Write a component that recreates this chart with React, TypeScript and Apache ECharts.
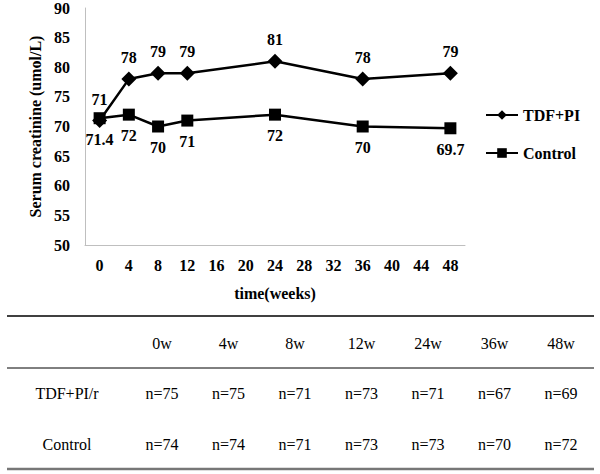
import React, { useEffect, useRef } from "react";
import * as echarts from "echarts";

const weeks = ["0", "4", "8", "12", "16", "20", "24", "28", "32", "36", "40", "44", "48"];
const tdfValues = [71, 78, 79, 79, null, null, 81, null, null, 78, null, null, 79];
const controlValues = [71.4, 72, 70, 71, null, null, 72, null, null, 70, null, null, 69.7];
const yTicks = { min: 50, max: 90, interval: 5 };

const tableHeaders = ["0w", "4w", "8w", "12w", "24w", "36w", "48w"];
const tableRowNames = ["TDF+PI/r", "Control"];
const tdfCounts = ["n=75", "n=75", "n=71", "n=73", "n=71", "n=67", "n=69"];
const controlCounts = ["n=74", "n=74", "n=71", "n=73", "n=73", "n=70", "n=72"];

const SERIF = "'Liberation Serif', 'Times New Roman', serif";

export default function App() {
  const ref = useRef<HTMLDivElement>(null);
  useEffect(() => {
    if (!ref.current) return;
    const chart = echarts.init(ref.current, undefined, { renderer: "svg" });

    const colX0 = 162;
    const colStep = 66.5;
    const tableTexts: any[] = [];
    const txt = (text: string, x: number, y: number) => ({
      type: "text",
      x,
      y,
      style: {
        text,
        font: `16px ${SERIF}`,
        fill: "#000",
        align: "center",
        verticalAlign: "middle",
      },
    });
    tableHeaders.forEach((h, i) => tableTexts.push(txt(h, colX0 + i * colStep, 343)));
    tableTexts.push(txt(tableRowNames[0], 67, 393));
    tableTexts.push(txt(tableRowNames[1], 67, 444));
    tdfCounts.forEach((c, i) => tableTexts.push(txt(c, colX0 + i * colStep, 393)));
    controlCounts.forEach((c, i) => tableTexts.push(txt(c, colX0 + i * colStep, 444)));

    const labelFont = { fontFamily: SERIF, fontWeight: "bold" as const, fontSize: 16, color: "#000" };

    chart.setOption({
      animation: false,
      backgroundColor: "#fff",
      grid: { left: 85, right: 135, top: 8, bottom: 229 },
      legend: {
        orient: "vertical",
        left: 480,
        top: 102,
        itemWidth: 32,
        itemHeight: 12,
        itemGap: 22,
        textStyle: { ...labelFont },
        data: ["TDF+PI", "Control"],
      },
      xAxis: {
        type: "category",
        data: weeks,
        boundaryGap: true,
        axisTick: { show: false },
        axisLine: { lineStyle: { color: "#bfbfbf", width: 1 } },
        axisLabel: { ...labelFont, margin: 12, interval: 0 },
        name: "time(weeks)",
        nameLocation: "middle",
        nameGap: 40,
        nameTextStyle: { ...labelFont },
      },
      yAxis: {
        type: "value",
        min: yTicks.min,
        max: yTicks.max,
        interval: yTicks.interval,
        splitLine: { show: false },
        axisTick: { show: false },
        axisLine: { show: true, lineStyle: { color: "#bfbfbf", width: 1 } },
        axisLabel: { ...labelFont, margin: 15 },
        name: "Serum creatinine (umol/L)",
        nameLocation: "middle",
        nameGap: 40,
        nameTextStyle: { ...labelFont },
      },
      series: [
        {
          name: "TDF+PI",
          type: "line",
          data: tdfValues,
          connectNulls: true,
          symbol: "diamond",
          symbolSize: 15,
          itemStyle: { color: "#000" },
          lineStyle: { color: "#000", width: 2.5 },
          label: { show: true, position: "top", distance: 6, ...labelFont },
        },
        {
          name: "Control",
          type: "line",
          data: controlValues,
          connectNulls: true,
          symbol: "rect",
          symbolSize: 12,
          itemStyle: { color: "#000" },
          lineStyle: { color: "#000", width: 2.5 },
          label: { show: true, position: "bottom", distance: 7, ...labelFont },
        },
      ],
      graphic: [
        { type: "line", shape: { x1: 7, y1: 316, x2: 594, y2: 316 }, style: { stroke: "#000", lineWidth: 1.5 } },
        { type: "line", shape: { x1: 7, y1: 368, x2: 594, y2: 368 }, style: { stroke: "#000", lineWidth: 1 } },
        { type: "line", shape: { x1: 7, y1: 469, x2: 594, y2: 469 }, style: { stroke: "#777", lineWidth: 2.5 } },
        ...tableTexts,
      ],
    });
    return () => chart.dispose();
  }, []);
  return (
    <div
      ref={ref}
      style={{ position: "fixed", left: 0, top: 0, width: 600, height: 474 }}
    />
  );
}
